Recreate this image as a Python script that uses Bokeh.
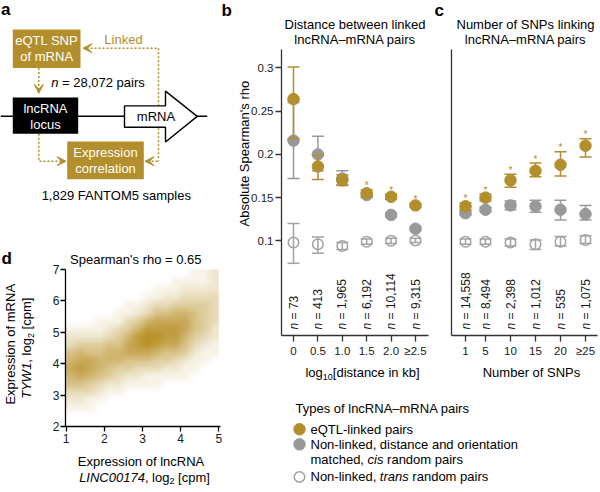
import math
import zlib
import struct
import base64
import numpy as np
from bokeh.plotting import figure
from bokeh.models import Range1d, FixedTicker, Label, Arrow, VeeHead, LinearAxis
from bokeh.core.properties import value
from bokeh.embed import file_html
from bokeh.resources import INLINE

# ---------------- data ----------------
dist_x = [0, 0.5, 1.0, 1.5, 2.0, 2.5]
dist_ticklabels = ["0", "0.5", "1.0", "1.5", "2.0", "≥2.5"]
dist_n = ["73", "413", "1,965", "6,192", "10,114", "9,315"]
dist_eqtl = [0.264, 0.186, 0.170, 0.155, 0.151, 0.141]
dist_eqtl_lo = [0.218, 0.171, 0.164, 0.151, 0.148, 0.139]
dist_eqtl_hi = [0.301, 0.199, 0.1765, 0.159, 0.154, 0.143]
dist_cis = [0.216, 0.200, 0.172, 0.153, 0.130, 0.114]
dist_cis_lo = [0.172, 0.181, 0.165, 0.150, 0.128, 0.112]
dist_cis_hi = [0.260, 0.221, 0.181, 0.156, 0.132, 0.116]
dist_trans = [0.098, 0.096, 0.094, 0.099, 0.100, 0.1005]
dist_trans_lo = [0.074, 0.0855, 0.090, 0.096, 0.097, 0.098]
dist_trans_hi = [0.120, 0.1045, 0.098, 0.102, 0.103, 0.103]
dist_sig = [False, False, False, True, True, True]

snp_x = [1, 5, 10, 15, 20, 25]
snp_ticklabels = ["1", "5", "10", "15", "20", "≥25"]
snp_n = ["14,558", "8,494", "2,398", "1,012", "535", "1,075"]
snp_eqtl = [0.140, 0.150, 0.170, 0.181, 0.188, 0.210]
snp_eqtl_lo = [0.136, 0.146, 0.162, 0.174, 0.175, 0.197]
snp_eqtl_hi = [0.144, 0.154, 0.177, 0.190, 0.203, 0.218]
snp_cis = [0.132, 0.136, 0.141, 0.140, 0.136, 0.131]
snp_cis_lo = [0.130, 0.134, 0.136, 0.133, 0.124, 0.124]
snp_cis_hi = [0.135, 0.139, 0.146, 0.147, 0.147, 0.141]
snp_trans = [0.099, 0.099, 0.098, 0.096, 0.099, 0.101]
snp_trans_lo = [0.096, 0.096, 0.094, 0.090, 0.094, 0.097]
snp_trans_hi = [0.102, 0.102, 0.102, 0.101, 0.105, 0.106]
snp_sig = [True, True, True, True, True, True]

rho_yticks = [0.1, 0.15, 0.2, 0.25, 0.3]
rho_yticklabels = ["0.1", "0.15", "0.2", "0.25", "0.3"]

# density of panel d (0-9), rows from top (log2 mRNA 6.875) to bottom (2.125),
# columns log2 lncRNA 1.125 ... 4.875 (step 0.25)
dens_rows = [
    "0000000000000112",
    "0000000000011112",
    "0000000001112222",
    "0000000011223333",
    "0000001123344443",
    "0000011235566543",
    "0001113467777543",
    "1111234688887542",
    "2222346899886432",
    "3444557898775321",
    "5655667776554211",
    "6776665554432110",
    "7876544333221100",
    "6765432211111000",
    "5543221111000000",
    "3332110000000000",
    "2211000000000000",
    "1110000000000000",
    "0000000000000000",
    "0000000000000000",
]
dens_x0, dens_x1 = 1, 5
dens_y0, dens_y1 = 2, 7
d_xticks = [1, 2, 3, 4, 5]
d_yticks = [2, 3, 4, 5, 6, 7]

# ---------------- style ----------------
FONT = "Liberation Sans"
GOLD = "#B38E2C"
HEAT = (184, 145, 40)
GRAY = "#999999"
OPEN = "#A2A2A2"
AX = "#333333"
FS = 13
PI2 = math.pi / 2

_CW = {}
for ch in "0123456789":
    _CW[ch] = 556
for ch, w in zip("abcdefghijklmnopqrstuvwxyz",
                 [556, 556, 500, 556, 556, 278, 556, 556, 222, 222, 500, 222, 833,
                  556, 556, 556, 556, 333, 500, 278, 556, 500, 722, 500, 500, 500]):
    _CW[ch] = w
for ch, w in zip("ABCDEFGHIJKLMNOPQRSTUVWXYZ",
                 [667, 667, 722, 722, 667, 611, 778, 722, 278, 500, 667, 556, 833,
                  722, 778, 667, 778, 722, 667, 611, 722, 667, 944, 667, 667, 611]):
    _CW[ch] = w
_CW.update({" ": 278, ",": 278, ".": 278, "-": 333, "=": 584, "[": 278, "]": 278,
            "'": 191, "–": 556, "≥": 549, "*": 389})


def tw(s, size):
    return sum(_CW.get(c, 556) for c in s) * size / 1000.0


# ---------------- one canvas; main ranges = reference pixels ----------------
CW_, CH_ = 600, 486
REFW, REFH = 600, 492
SX, SY = CW_ / REFW, CH_ / REFH
p = figure(width=CW_, height=CH_, x_range=Range1d(0, REFW), y_range=Range1d(REFH, 0),
           output_backend="svg", toolbar_location=None, x_axis_location=None,
           y_axis_location=None, min_border=0)
p.outline_line_color = None
p.background_fill_color = "white"
p.border_fill_color = "white"
p.grid.visible = False


def xrange_for(v, px, ppu):
    return Range1d(v + (0 - px) / ppu, v + (REFW - px) / ppu)


def yrange_for(v, py, ppu):
    return Range1d(v + (py - REFH) / ppu, v + (py - 0) / ppu)


# panel scales: (value, reference pixel of that value, reference pixels per unit)
BX = (0.0, 293.0, 48.8)
CX = (1.0, 465.0, 5.0)
RY = (0.1, 243.3, 875.0)
DX = (1.0, 65.7, 38.15)
DY = (2.0, 431.7, 31.88)
p.extra_x_ranges = {"bx": xrange_for(*BX), "cx": xrange_for(*CX), "dx": xrange_for(*DX)}
p.extra_y_ranges = {"ry": yrange_for(*RY), "dy": yrange_for(*DY)}


def xv(sc, px):
    return sc[0] + (px - sc[1]) / sc[2]


def yv(sc, py):
    return sc[0] + (sc[1] - py) / sc[2]


def lab(x, y, text, size=FS, align="center", baseline="middle", angle=0.0,
        style="normal", color="black", xo=0):
    p.add_layout(Label(x=x, y=y, text=text, text_font=FONT, text_font_size=f"{size}px",
                       text_font_style=style, text_color=color, text_align=align,
                       text_baseline=baseline, angle=angle, x_offset=xo))


def runs(x, y, parts, center=False, color="black"):
    total = sum(tw(t, s) for t, st, s, dy in parts)
    off = -total / 2 if center else 0
    for t, st, s, dy in parts:
        lead = len(t) - len(t.lstrip())
        lab(x, y + dy, t.strip(), size=s, align="left", style=st,
            xo=off + tw(t[:lead], s), color=color)
        off += tw(t, s)


def vruns(x, yc, parts):
    total = sum(tw(t, s) for t, st, s, dx in parts)
    pos = total / 2
    for t, st, s, dx in parts:
        lead = len(t) - len(t.lstrip())
        lab(x, yc + (pos - tw(t[:lead], s)) / SY, t.strip(), size=s, align="left",
            style=st, angle=PI2, xo=dx)
        pos -= tw(t, s)


def axis_kw(out=6, standoff=3, color=AX, size="11.5px"):
    return dict(axis_line_color=color, axis_line_width=1.3, major_tick_line_color=color,
                major_tick_line_width=1.3, major_tick_in=0, major_tick_out=out,
                minor_tick_in=0, minor_tick_out=0, major_label_text_font=FONT,
                major_label_text_font_size=size, major_label_text_color="#1a1a1a",
                major_label_standoff=standoff)


# ---------------- panels b and c ----------------
R_BOT, R_TOP = yv(RY, 339), yv(RY, 50)
NY = yv(RY, 333)


def rho_panel(xn, sc, frame_px, x, tl, nl, eq, eqlo, eqhi, ci, cilo, cihi,
              tr, trlo, trhi, sig, show_y):
    x_lo, x_hi = xv(sc, frame_px[0]), xv(sc, frame_px[1])
    rn = dict(x_range_name=xn, y_range_name="ry")
    xa = LinearAxis(ticker=FixedTicker(ticks=x), major_label_overrides=dict(zip(x, tl)),
                    fixed_location=R_BOT, bounds=(x_lo, x_hi), **rn, **axis_kw(6, 4))
    p.add_layout(xa, "below")
    if show_y:
        ya = LinearAxis(ticker=FixedTicker(ticks=rho_yticks),
                        major_label_overrides=dict(zip(rho_yticks, rho_yticklabels)),
                        fixed_location=x_lo, bounds=(R_BOT, R_TOP), **rn, **axis_kw(6, 2))
    else:
        ya = LinearAxis(ticker=FixedTicker(ticks=[]), fixed_location=x_lo,
                        bounds=(R_BOT, R_TOP), **rn, **axis_kw(0, 0))
        ya.major_label_text_color = None
    p.add_layout(ya, "left")
    ppu = RY[2] * SY
    for m, lo, hi, col, filled in [(tr, trlo, trhi, OPEN, False),
                                   (ci, cilo, cihi, GRAY, True),
                                   (eq, eqlo, eqhi, GOLD, True)]:
        p.segment(x0=x, y0=lo, x1=x, y1=hi, line_color=col, line_width=1.5, **rn)
        p.scatter(x=x, y=lo, marker="dash", size=12, line_color=col, line_width=1.5, **rn)
        p.scatter(x=x, y=hi, marker="dash", size=12, line_color=col, line_width=1.5, **rn)
        if filled:
            p.scatter(x=x, y=m, marker="circle", size=11.5, fill_color=col, line_color=col, **rn)
        else:
            p.scatter(x=x, y=m, marker="circle", size=10.5, fill_color=None,
                      line_color=col, line_width=1.5, **rn)
    sx = [a for a, s in zip(x, sig) if s]
    sy = [b + 4 / ppu for b, s in zip(eqhi, sig) if s]
    p.text(x=sx, y=sy, text=["*"] * len(sx), text_font=value(FONT), text_font_size="10px",
           text_color=GOLD, text_align="center", text_baseline="alphabetic", **rn)
    k = len(x)
    p.text(x=x, y=[NY] * k, text=["n"] * k, angle=PI2, text_font=value(FONT),
           text_font_size="12px", text_font_style="italic", text_color="#1a1a1a",
           text_align="left", text_baseline="middle", **rn)
    p.text(x=x, y=[NY + tw("n ", 12) / ppu] * k, text=["= " + s for s in nl], angle=PI2,
           text_font=value(FONT), text_font_size="12px", text_color="#1a1a1a",
           text_align="left", text_baseline="middle", **rn)


rho_panel("bx", BX, (281, 428), dist_x, dist_ticklabels, dist_n, dist_eqtl, dist_eqtl_lo,
          dist_eqtl_hi, dist_cis, dist_cis_lo, dist_cis_hi, dist_trans, dist_trans_lo,
          dist_trans_hi, dist_sig, True)
rho_panel("cx", CX, (451, 597), snp_x, snp_ticklabels, snp_n, snp_eqtl, snp_eqtl_lo,
          snp_eqtl_hi, snp_cis, snp_cis_lo, snp_cis_hi, snp_trans, snp_trans_lo,
          snp_trans_hi, snp_sig, False)

lab(221, 10, "b", size=17, align="left", style="bold")
lab(354.5, 24, "Distance between linked")
lab(354.5, 39, "lncRNA–mRNA pairs")
lab(244, 155, "Absolute Spearman's rho", angle=PI2)
runs(362, 377, [("log", "normal", 13, 0), ("10", "normal", 9, 4),
                ("[distance in kb]", "normal", 13, 0)], center=True)
lab(434, 10, "c", size=17, align="left", style="bold")
lab(525, 24, "Number of SNPs linking")
lab(525, 39, "lncRNA–mRNA pairs")
lab(531, 377, "Number of SNPs")


# ---------------- panel d ----------------
def png_url(rgb):
    h, w, _ = rgb.shape
    raw = b"".join(b"\x00" + rgb[r].tobytes() for r in range(h))

    def chunk(tag, data):
        return (struct.pack(">I", len(data)) + tag + data +
                struct.pack(">I", zlib.crc32(tag + data) & 0xFFFFFFFF))
    png = (b"\x89PNG\r\n\x1a\n" + chunk(b"IHDR", struct.pack(">IIBBBBB", w, h, 8, 2, 0, 0, 0)) +
           chunk(b"IDAT", zlib.compress(raw, 9)) + chunk(b"IEND", b""))
    return "data:image/png;base64," + base64.b64encode(png).decode()


vals = np.array([[int(c) for c in r] for r in dens_rows], dtype=float) / 9.0
rgb = np.zeros(vals.shape + (3,), dtype=np.uint8)
for i in range(3):
    rgb[..., i] = np.round(255 - (255 - HEAT[i]) * vals).astype(np.uint8)
dn = dict(x_range_name="dx", y_range_name="dy")
p.image_url(url=[png_url(rgb)], x=dens_x0, y=dens_y0, w=dens_x1 - dens_x0,
            h=dens_y1 - dens_y0, anchor="bottom_left", **dn)
d_x_lo, d_x_hi = xv(DX, 65), xv(DX, 220)
p.add_layout(LinearAxis(ticker=FixedTicker(ticks=d_xticks), fixed_location=d_yticks[0],
                        bounds=(d_x_lo, d_x_hi), **dn, **axis_kw(5, 2, "black", "12px")),
             "below")
p.add_layout(LinearAxis(ticker=FixedTicker(ticks=d_yticks), fixed_location=d_x_lo,
                        bounds=(d_yticks[0], d_yticks[-1]), **dn,
                        **axis_kw(5, 1, "black", "12px")), "left")
lab(1, 261, "d", size=17, align="left", style="bold")
lab(135.3, 261.7, "Spearman's rho = 0.65")
lab(10, 348, "Expression of mRNA", angle=PI2)
vruns(26, 352, [("TYW1", "italic", 13, 0), (", log", "normal", 13, 0),
                ("2", "normal", 9, 4), (" [cpm]", "normal", 13, 0)])
lab(140.5, 467, "Expression of lncRNA")
runs(144, 483, [("LINC00174", "italic", 13, 0), (", log", "normal", 13, 0),
                ("2", "normal", 9, 3), (" [cpm]", "normal", 13, 0)], center=True)

# ---------------- panel a (schematic, reference-pixel coordinates) ----------------
p.segment(x0=0, y0=117.3, x1=206.7, y1=117.3, line_color="black", line_width=1.5)
dot = dict(line_color=GOLD, line_width=1.5, line_dash="2 2")
p.line([158, 158], [48.3, 162.7], **dot)
p.line([86, 158], [48.3, 48.3], **dot)
p.line([147, 158], [162.7, 162.7], **dot)
p.line([38.3, 38.3], [68.3, 90], **dot)
p.line([38.3, 38.3, 62], [135, 162.7, 162.7], **dot)
for xs, ys, xe, ye in [(90, 48.3, 82.5, 48.3), (38.3, 86, 38.3, 94),
                       (58, 162.7, 65.5, 162.7), (151, 162.7, 144.5, 162.7)]:
    p.add_layout(Arrow(end=VeeHead(size=9, fill_color=GOLD, line_color=GOLD, line_width=1),
                       x_start=xs, y_start=ys, x_end=xe, y_end=ye, line_color=None))
p.quad(left=[12.3, 66.7], right=[80, 143.3], top=[29.3, 142.7], bottom=[68.3, 181],
       fill_color=GOLD, line_color=None)
p.quad(left=12.3, right=77.7, top=98.3, bottom=135, fill_color="black", line_color=None)
p.patch([124, 165, 165, 196.7, 165, 165, 124], [106.7, 106.7, 91.7, 117.3, 143.3, 128.3, 128.3],
        fill_color="white", line_color="black", line_width=1.4)
lab(0.5, 9, "a", size=17, align="left", style="bold")
lab(46.2, 40.3, "eQTL SNP", color="white")
lab(46.2, 56.7, "of mRNA", color="white")
lab(123, 39, "Linked", color=GOLD)
runs(50.7, 83.3, [("n", "italic", 13, 0), (" = 28,072 pairs", "normal", 13, 0)])
lab(45, 109.5, "lncRNA", color="white")
lab(45, 125.5, "locus", color="white")
lab(155.5, 117.3, "mRNA")
lab(105, 154.3, "Expression", color="white")
lab(105, 170.3, "correlation", color="white")
lab(115.8, 197.7, "1,829 FANTOM5 samples")

# ---------------- legend ----------------
p.scatter(x=[299, 299], y=[434, 449.3], size=11.5, fill_color=[GOLD, GRAY],
          line_color=[GOLD, GRAY])
p.scatter(x=[299], y=[482.3], size=10.5, fill_color=None, line_color=OPEN, line_width=1.5)
lab(295, 413, "Types of lncRNA–mRNA pairs", align="left")
lab(310, 434, "eQTL-linked pairs", align="left")
lab(310, 449.3, "Non-linked, distance and orientation", align="left")
runs(310, 465, [("matched, ", "normal", 13, 0), ("cis", "italic", 13, 0),
                (" random pairs", "normal", 13, 0)])
runs(310, 482.3, [("Non-linked, ", "normal", 13, 0), ("trans", "italic", 13, 0),
                  (" random pairs", "normal", 13, 0)])

open("out.html", "w").write(file_html(p, INLINE))
